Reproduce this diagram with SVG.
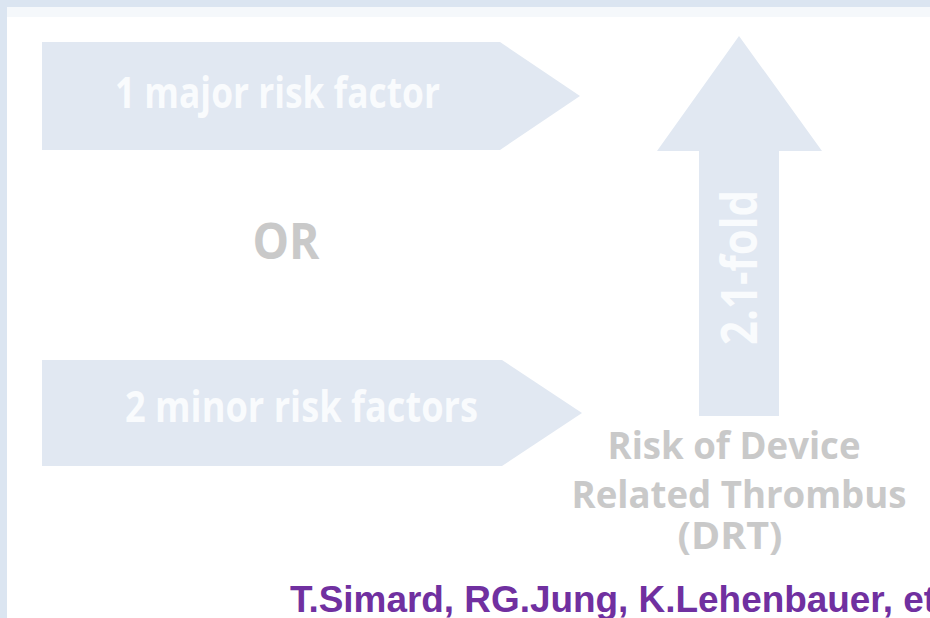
<svg xmlns="http://www.w3.org/2000/svg" width="930" height="618" viewBox="0 0 930 618">
  <style>
    .shape { fill: #e1e8f2; }
    .inner { font-family: "Open Sans", "Liberation Sans", sans-serif; font-weight: 700; fill: #f9fbfd; }
    .grey { font-family: "Open Sans", "Liberation Sans", sans-serif; font-weight: 700; fill: #c9c9c9; text-anchor: middle; }
    .cite { font-family: "Liberation Sans", Arial, sans-serif; font-weight: 700; fill: #7030a0; }
  </style>

  <!-- page frame -->
  <rect x="0" y="0" width="930" height="618" fill="#dbe5f1"/>
  <rect x="7" y="7" width="923" height="10" fill="#f5f8fb"/>
  <rect x="7" y="17" width="923" height="601" fill="#ffffff"/>

  <!-- pentagon: one major factor -->
  <g id="major">
    <polygon class="shape" points="42,42 500,42 580,96 500,150 42,150"/>
    <text class="inner" x="115" y="108" font-size="43" textLength="325" lengthAdjust="spacingAndGlyphs">1 major risk factor</text>
  </g>

  <!-- separator -->
  <g id="or">
    <text class="grey" x="286" y="259" font-size="50" textLength="67" lengthAdjust="spacingAndGlyphs">OR</text>
  </g>

  <!-- pentagon: two minor factors -->
  <g id="minor">
    <polygon class="shape" points="42,360 502,360 582,413 502,466 42,466"/>
    <text class="inner" x="125" y="422" font-size="43" textLength="353" lengthAdjust="spacingAndGlyphs">2 minor risk factors</text>
  </g>

  <!-- upward arrow with fold increase -->
  <g id="increase">
    <polygon class="shape" points="739,36 822,151 779,151 779,416 699,416 699,151 657,151"/>
    <text class="inner" transform="translate(757,345) rotate(-90)" font-size="50" textLength="155" lengthAdjust="spacingAndGlyphs">2.1-fold</text>
  </g>

  <!-- outcome label -->
  <g id="outcome">
    <text class="grey" x="734" y="459" font-size="37" textLength="253" lengthAdjust="spacingAndGlyphs">Risk of Device</text>
    <text class="grey" x="739" y="508" font-size="37" textLength="335" lengthAdjust="spacingAndGlyphs">Related Thrombus</text>
    <text class="grey" x="730" y="549" font-size="37" textLength="105" lengthAdjust="spacingAndGlyphs">(DRT)</text>
  </g>

  <!-- citation -->
  <text class="cite" x="290" y="612" font-size="36" textLength="646" lengthAdjust="spacingAndGlyphs">T.Simard, RG.Jung, K.Lehenbauer, et</text>
</svg>
